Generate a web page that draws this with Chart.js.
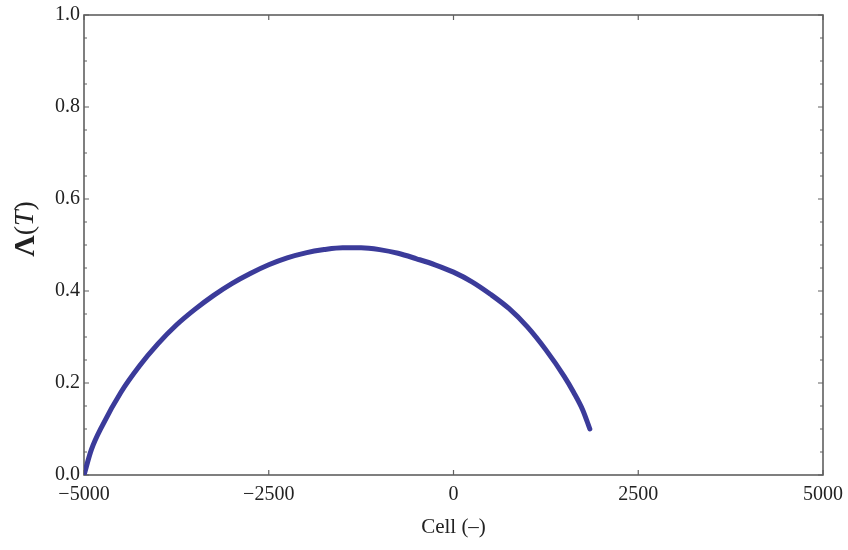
<!DOCTYPE html>
<html>
<head>
<meta charset="utf-8">
<script src="https://cdn.jsdelivr.net/npm/chart.js@4"></script>
<style>
    body { margin: 0; background: #fff; }
</style>
</head>
<body>
<canvas id="myChart" width="848" height="550"></canvas>
<script>
// Data
var cellValues = [-5000, -4900, -4750, -4500, -4250, -4000, -3750, -3500, -3250, -3000,
    -2750, -2500, -2250, -2000, -1750, -1500, -1250, -1000, -750, -500,
    -250, 0, 250, 500, 750, 1000, 1250, 1500, 1625, 1750, 1845];
var lambdaValues = [0, 0.055, 0.108, 0.180, 0.237, 0.285, 0.326, 0.360, 0.390, 0.416,
    0.438, 0.457, 0.472, 0.483, 0.490, 0.494, 0.494, 0.490, 0.482, 0.470,
    0.457, 0.441, 0.420, 0.393, 0.362, 0.322, 0.272, 0.214, 0.180, 0.141, 0.100];

// Tick labels
var xTicks = [-5000, -2500, 0, 2500, 5000];
var yTicks = [0, 0.2, 0.4, 0.6, 0.8, 1.0];
var yMinorTicks = [0.05, 0.1, 0.15, 0.25, 0.3, 0.35, 0.45, 0.5, 0.55, 0.65, 0.7, 0.75, 0.85, 0.9, 0.95];

var serif = "'Liberation Serif', 'DejaVu Serif', serif";
var frameColor = '#606060';

var points = [];
for (var i = 0; i < cellValues.length; i++) {
    points.push({ x: cellValues[i], y: lambdaValues[i] });
}

// Frame, inward ticks and axis titles (Mathematica style)
var framePlugin = {
    id: 'frame',
    beforeDatasetsDraw: function (chart) {
        var ctx = chart.ctx;
        var a = chart.chartArea;
        var xs = chart.scales.x;
        var ys = chart.scales.y;
        ctx.save();
        ctx.strokeStyle = frameColor;
        ctx.lineWidth = 1.6;
        ctx.strokeRect(a.left, a.top, a.right - a.left, a.bottom - a.top);

        ctx.lineWidth = 1.2;
        ctx.beginPath();
        xTicks.forEach(function (v) {
            var px = xs.getPixelForValue(v);
            ctx.moveTo(px, a.bottom); ctx.lineTo(px, a.bottom - 5);
            ctx.moveTo(px, a.top); ctx.lineTo(px, a.top + 5);
        });
        yTicks.forEach(function (v) {
            var py = ys.getPixelForValue(v);
            ctx.moveTo(a.left, py); ctx.lineTo(a.left + 5, py);
            ctx.moveTo(a.right, py); ctx.lineTo(a.right - 5, py);
        });
        yMinorTicks.forEach(function (v) {
            var py = ys.getPixelForValue(v);
            ctx.moveTo(a.left, py); ctx.lineTo(a.left + 3, py);
            ctx.moveTo(a.right, py); ctx.lineTo(a.right - 3, py);
        });
        ctx.stroke();

        // x axis title
        ctx.fillStyle = '#222';
        ctx.font = '21px ' + serif;
        ctx.textAlign = 'center';
        ctx.textBaseline = 'middle';
        ctx.fillText('Cell (\u2013)', xs.getPixelForValue(0), 527);

        // y axis title: bold Lambda, italic T
        var parts = [
            { t: '\u039B', f: 'bold 30px ' + serif },
            { t: '(', f: '28px ' + serif },
            { t: 'T', f: 'italic 28px ' + serif },
            { t: ')', f: '28px ' + serif }
        ];
        var total = 0;
        parts.forEach(function (p) {
            ctx.font = p.f;
            p.w = ctx.measureText(p.t).width;
            total += p.w;
        });
        ctx.translate(26, 229);
        ctx.rotate(-Math.PI / 2);
        ctx.textAlign = 'left';
        var cx = -total / 2;
        parts.forEach(function (p) {
            ctx.font = p.f;
            ctx.fillText(p.t, cx, 0);
            cx += p.w;
        });
        ctx.restore();
    }
};

var ctx = document.getElementById('myChart').getContext('2d');
var myChart = new Chart(ctx, {
    type: 'scatter',
    data: {
        datasets: [{
            data: points,
            showLine: true,
            borderColor: '#3b3b9a',
            borderWidth: 5,
            borderCapStyle: 'round',
            borderJoinStyle: 'round',
            cubicInterpolationMode: 'monotone',
            pointRadius: 0,
            fill: false
        }]
    },
    options: {
        responsive: false,
        animation: false,
        layout: { padding: { top: 15, right: 25, left: 0, bottom: 0 } },
        plugins: {
            legend: { display: false },
            tooltip: { enabled: false }
        },
        scales: {
            x: {
                type: 'linear',
                min: -5000,
                max: 5000,
                grid: { display: false, drawTicks: false },
                border: { display: false },
                afterBuildTicks: function (scale) {
                    scale.ticks = xTicks.map(function (v) { return { value: v }; });
                },
                afterFit: function (scale) {
                    scale.height = 75;
                    scale.paddingLeft = 0;
                    scale.paddingRight = 0;
                },
                ticks: {
                    padding: 8,
                    maxRotation: 0,
                    color: '#222',
                    font: { family: serif, size: 20 },
                    callback: function (v) { return v < 0 ? '\u2212' + Math.abs(v) : String(v); }
                }
            },
            y: {
                min: 0,
                max: 1,
                grid: { display: false, drawTicks: false },
                border: { display: false },
                afterBuildTicks: function (scale) {
                    scale.ticks = yTicks.map(function (v) { return { value: v }; });
                },
                afterFit: function (scale) {
                    scale.width = 84;
                    scale.paddingTop = 0;
                    scale.paddingBottom = 0;
                },
                ticks: {
                    padding: 4,
                    color: '#222',
                    font: { family: serif, size: 20 },
                    callback: function (v) { return Number(v).toFixed(1); }
                }
            }
        }
    },
    plugins: [framePlugin]
});
</script>
</body>
</html>
